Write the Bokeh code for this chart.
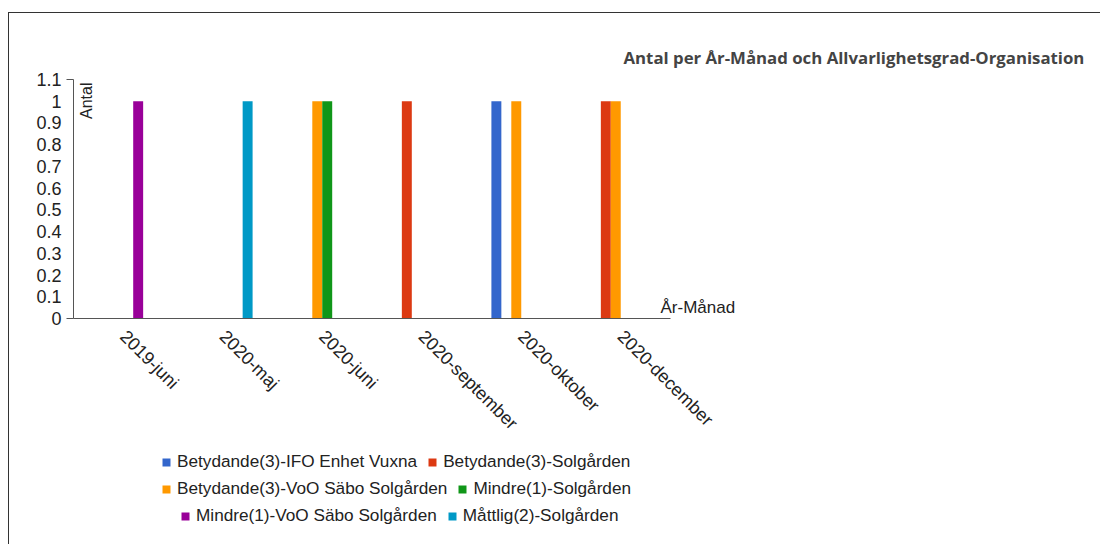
from bokeh.plotting import figure
from bokeh.layouts import column
from bokeh.models import (FactorRange, Range1d, Legend, LegendItem, Label, Title, LinearAxis,
                          FixedTicker, CustomJSTickFormatter, ColumnDataSource)
from bokeh.transform import dodge
from bokeh.embed import file_html
from bokeh.resources import INLINE

months = ["2019-juni", "2020-maj", "2020-juni", "2020-september", "2020-oktober", "2020-december"]
series_names = ["Betydande(3)-IFO Enhet Vuxna", "Betydande(3)-Solgården",
                "Betydande(3)-VoO Säbo Solgården", "Mindre(1)-Solgården",
                "Mindre(1)-VoO Säbo Solgården", "Måttlig(2)-Solgården"]
betydande_ifo = [0, 0, 0, 0, 1, 0]
betydande_solg = [0, 0, 0, 1, 0, 1]
betydande_voo = [0, 0, 1, 0, 1, 1]
mindre_solg = [0, 0, 1, 0, 0, 0]
mindre_voo = [1, 0, 0, 0, 0, 0]
mattlig_solg = [0, 1, 0, 0, 0, 0]
y_ticks = [0, 0.1, 0.2, 0.3, 0.4, 0.5, 0.6, 0.7, 0.8, 0.9, 1.0, 1.1]
title_text = "Antal per År-Månad och Allvarlighetsgrad-Organisation"
y_title = "Antal"
x_title = "År-Månad"

series_values = [betydande_ifo, betydande_solg, betydande_voo, mindre_solg, mindre_voo, mattlig_solg]
colors = ["#3366cc", "#dc3912", "#ff9900", "#109618", "#990099", "#0099c6"]
keys = ["s0", "s1", "s2", "s3", "s4", "s5"]

data = {"month": months}
for k, v in zip(keys, series_values):
    data[k] = v
source = ColumnDataSource(data)

FONT = "Liberation Sans"
AXIS_C = "#555555"

p = figure(x_range=FactorRange(factors=months), y_range=Range1d(0, y_ticks[-1]),
           width=1092, height=430,
           output_backend="svg", toolbar_location=None,
           min_border_left=64, min_border_top=66, min_border_right=431, min_border_bottom=121)
p.outline_line_color = None
p.xgrid.grid_line_color = None
p.ygrid.grid_line_color = None

offsets = [-0.25, -0.15, -0.05, 0.05, 0.15, 0.25]
for k, off, c in zip(keys, offsets, colors):
    p.vbar(x=dodge("month", off, range=p.x_range), top=k, bottom=0, width=0.1,
           source=source, fill_color=c, line_color=None)

# main y axis: labels only
yax = p.yaxis[0]
yax.ticker = FixedTicker(ticks=y_ticks)
yax.formatter = CustomJSTickFormatter(code="return String(Number(tick.toFixed(1)));")
yax.minor_tick_line_color = None
yax.major_tick_line_color = None
yax.major_tick_out = 0
yax.major_tick_in = 0
yax.axis_line_color = None
yax.major_label_text_font = FONT
yax.major_label_text_font_size = "18px"
yax.major_label_text_color = "#222222"
yax.major_label_standoff = 5

# inner y axis: line + end ticks only (no labels)
yin = LinearAxis(ticker=FixedTicker(ticks=[y_ticks[0], y_ticks[-1]]),
                 formatter=CustomJSTickFormatter(code="return '';"),
                 major_label_standoff=0,
                 major_tick_out=7, major_tick_in=0, minor_tick_line_color=None,
                 axis_line_color=AXIS_C, major_tick_line_color=AXIS_C)
p.add_layout(yin, "left")
p.left = [yin] + [a for a in p.left if a is not yin]

# x axis
xax = p.xaxis[0]
xax.major_label_orientation = -0.785398
xax.major_tick_line_color = None
xax.axis_line_color = AXIS_C
xax.major_label_text_font = FONT
xax.major_label_text_font_size = "18px"
xax.major_label_text_color = "#222222"
xax.major_label_standoff = 9

# y axis title inside the frame
p.add_layout(Label(x=4, y=236, x_units="screen", y_units="screen", text=y_title, angle=1.5708,
                   text_align="right", text_baseline="top", text_font=FONT,
                   text_font_size="16px", text_color="#222222"))

# x axis title at right end, just above the axis line
xt = LinearAxis(ticker=FixedTicker(ticks=[0.05]), major_label_overrides={0.05: x_title},
                axis_line_color=None, major_tick_line_color=None, minor_tick_line_color=None,
                major_tick_out=0, major_tick_in=0, major_label_standoff=-10,
                major_label_text_font=FONT, major_label_text_font_size="17px",
                major_label_text_color="#222222")
p.add_layout(xt, "right")

# chart title
p.add_layout(Title(text=title_text, align="left", offset=550, standoff=21,
                   text_font="Open Sans", text_font_style="bold", text_font_size="16.8px",
                   text_color="#444444"), "above")

# legend panel (separate figure below the chart)
lf = figure(width=1092, height=102, output_backend="svg", toolbar_location=None,
            x_range=Range1d(0, 1), y_range=Range1d(0, 1),
            x_axis_location=None, y_axis_location=None,
            min_border_left=0, min_border_right=0, min_border_top=0, min_border_bottom=0)
lf.frame_align = False
lf.outline_line_color = None
lf.xgrid.grid_line_color = None
lf.ygrid.grid_line_color = None
lrs = []
for c in colors:
    lrs.append(lf.vbar(x=[-10], top=[0], bottom=[0], width=0.1, fill_color=c, line_color=None))

rows = [([0, 1], (152, 73)), ([2, 3], (152, 46)), ([4, 5], (171, 19))]
for idx, loc in rows:
    lg = Legend(items=[LegendItem(label=series_names[i], renderers=[lrs[i]]) for i in idx],
                location=loc, orientation="horizontal", padding=0, margin=0, spacing=10,
                glyph_width=10, glyph_height=10, label_standoff=6,
                label_text_font=FONT, label_text_font_size="17.2px", label_text_color="#222222",
                border_line_color=None, background_fill_alpha=0)
    lf.add_layout(lg, "center")

layout = column(p, lf, spacing=0, margin=(12, 0, 0, 8),
                styles={"border-left": "1px solid #333", "border-top": "1px solid #333"})

open("out.html", "w").write(file_html(layout, INLINE))
